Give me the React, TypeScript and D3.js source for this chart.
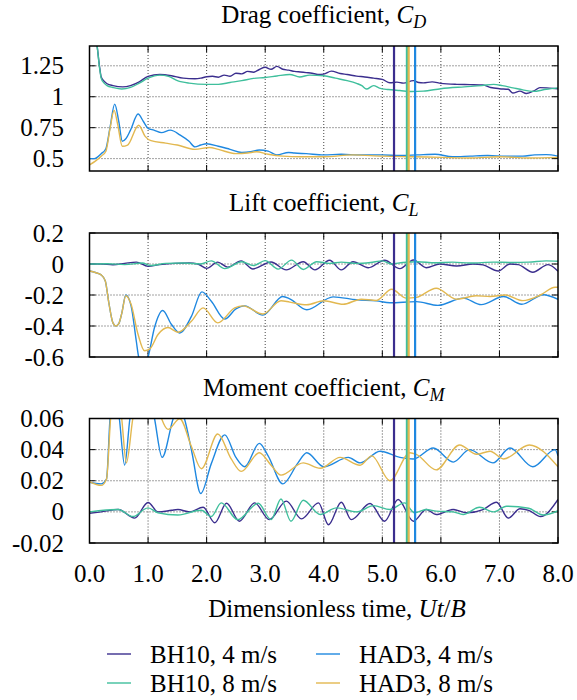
import React from "react";
import * as d3 from "d3";

// ---------- data ----------
const xTicks = [0, 1, 2, 3, 4, 5, 6, 7, 8];
const xTickLabels = ["0.0", "1.0", "2.0", "3.0", "4.0", "5.0", "6.0", "7.0", "8.0"];

const seriesNames = ["BH10, 4 m/s", "BH10, 8 m/s", "HAD3, 4 m/s", "HAD3, 8 m/s"];
const seriesColors = ["#3b2e8e", "#3fbf9c", "#1f88e0", "#e2b850"];
const markerTimes = [5.2, 5.42, 5.56, 5.45]; // vertical lines, same order as series

const dragTicks = [0.5, 0.75, 1, 1.25];
const dragTickLabels = ["0.5", "0.75", "1", "1.25"];
const liftTicks = [-0.6, -0.4, -0.2, 0, 0.2];
const liftTickLabels = ["-0.6", "-0.4", "-0.2", "0", "0.2"];
const momentTicks = [-0.02, 0, 0.02, 0.04, 0.06];
const momentTickLabels = ["-0.02", "0", "0.02", "0.04", "0.06"];

const dragBH10_4 = [[0,1.75],[0.08,1.55],[0.13,1.41],[0.17,1.25],[0.2,1.16],[0.25,1.125],[0.3,1.105],[0.4,1.09],[0.57,1.08],[0.7,1.09],[0.85,1.12],[1.0,1.165],[1.2,1.18],[1.4,1.17],[1.6,1.15],[1.8,1.145],[1.9,1.15],[2.0,1.162],[2.1,1.165],[2.2,1.158],[2.3,1.175],[2.4,1.165],[2.5,1.19],[2.6,1.185],[2.7,1.205],[2.8,1.198],[2.9,1.22],[3.0,1.238],[3.1,1.222],[3.2,1.245],[3.3,1.222],[3.4,1.215],[3.5,1.205],[3.6,1.2],[3.7,1.195],[3.8,1.19],[3.9,1.18],[4.0,1.183],[4.13,1.207],[4.28,1.188],[4.4,1.18],[4.56,1.167],[4.7,1.16],[4.85,1.15],[5.0,1.14],[5.13,1.113],[5.25,1.118],[5.36,1.11],[5.53,1.13],[5.62,1.115],[5.7,1.112],[5.85,1.12],[6.0,1.108],[6.27,1.1],[6.5,1.098],[6.72,1.095],[6.85,1.075],[7.0,1.065],[7.15,1.06],[7.23,1.03],[7.35,1.045],[7.46,1.026],[7.6,1.05],[7.69,1.074],[7.85,1.07],[8.0,1.065]];
const dragBH10_8 = [[0,1.75],[0.08,1.55],[0.13,1.41],[0.17,1.24],[0.2,1.15],[0.25,1.11],[0.3,1.09],[0.4,1.075],[0.55,1.062],[0.7,1.075],[0.85,1.11],[1.0,1.15],[1.2,1.175],[1.35,1.165],[1.5,1.13],[1.7,1.11],[2.0,1.1],[2.2,1.1],[2.4,1.115],[2.6,1.13],[2.8,1.148],[3.0,1.155],[3.2,1.168],[3.42,1.18],[3.59,1.16],[3.76,1.175],[4.0,1.17],[4.2,1.15],[4.4,1.13],[4.56,1.108],[4.65,1.09],[4.73,1.062],[4.85,1.09],[4.95,1.07],[5.1,1.058],[5.3,1.05],[5.5,1.042],[5.7,1.045],[6.0,1.065],[6.4,1.08],[6.7,1.09],[6.9,1.1],[7.05,1.09],[7.23,1.072],[7.4,1.055],[7.57,1.043],[7.8,1.06],[8.0,1.072]];
const dragHAD3_4 = [[0,0.5],[0.08,0.5],[0.2,0.54],[0.28,0.58],[0.35,0.75],[0.43,0.94],[0.5,0.8],[0.56,0.64],[0.62,0.66],[0.7,0.73],[0.83,0.86],[0.92,0.8],[1.0,0.745],[1.1,0.73],[1.23,0.71],[1.38,0.73],[1.55,0.69],[1.7,0.64],[1.8,0.595],[1.9,0.61],[2.0,0.62],[2.2,0.6],[2.4,0.575],[2.6,0.55],[2.75,0.555],[2.9,0.57],[3.05,0.56],[3.2,0.53],[3.4,0.55],[3.5,0.545],[3.7,0.54],[4.0,0.53],[4.3,0.535],[4.6,0.53],[5.0,0.53],[5.3,0.525],[5.6,0.53],[5.9,0.535],[6.2,0.515],[6.5,0.52],[6.8,0.525],[7.1,0.52],[7.4,0.52],[7.6,0.53],[7.8,0.532],[8.0,0.52]];
const dragHAD3_8 = [[0,0.45],[0.1,0.48],[0.2,0.52],[0.28,0.56],[0.35,0.74],[0.42,0.89],[0.48,0.78],[0.56,0.6],[0.65,0.61],[0.84,0.77],[0.95,0.68],[1.05,0.645],[1.3,0.625],[1.5,0.61],[1.8,0.575],[2.05,0.59],[2.2,0.575],[2.5,0.54],[2.7,0.545],[2.85,0.555],[3.05,0.535],[3.3,0.52],[3.6,0.515],[4.0,0.515],[4.5,0.53],[5.0,0.52],[5.5,0.515],[6.0,0.51],[6.5,0.505],[7.0,0.515],[7.5,0.505],[8.0,0.51]];

const liftBH10_4 = [[0,0],[0.2,0],[0.4,-0.005],[0.6,0.004],[0.8,0.012],[1.0,-0.015],[1.2,-0.004],[1.45,0.004],[1.7,0.006],[1.85,0.0],[2.0,-0.028],[2.19,0.012],[2.36,-0.02],[2.59,0.02],[2.79,-0.032],[3.1,0.013],[3.36,-0.038],[3.65,0.015],[3.85,-0.038],[4.1,0.024],[4.3,-0.038],[4.5,0.015],[4.76,-0.024],[5.04,0.024],[5.3,-0.03],[5.53,0.026],[5.75,-0.024],[5.98,0.0],[6.27,-0.013],[6.55,0.0],[6.72,-0.006],[6.98,-0.045],[7.18,0.0],[7.32,-0.004],[7.57,-0.053],[7.83,-0.004],[8.0,-0.047]];
const liftBH10_8 = [[0,0],[0.3,0.002],[0.6,-0.004],[0.9,0.006],[1.05,-0.01],[1.3,0.004],[1.6,0.006],[1.9,0.0],[2.08,0.02],[2.31,-0.03],[2.6,0.015],[2.8,-0.01],[3.0,0.022],[3.22,-0.033],[3.45,0.025],[3.65,-0.035],[3.88,0.015],[4.1,0.004],[4.3,0.012],[4.56,0.004],[4.8,0.01],[5.0,0.02],[5.15,0.0],[5.35,0.01],[5.6,0.015],[5.9,0.008],[6.2,0.012],[6.5,0.006],[6.9,0.012],[7.2,0.01],[7.5,0.012],[7.8,0.02],[8.0,0.018]];
const liftHAD3_4 = [[0,-0.045],[0.1,-0.055],[0.2,-0.07],[0.27,-0.11],[0.33,-0.25],[0.4,-0.38],[0.45,-0.4],[0.5,-0.385],[0.55,-0.32],[0.62,-0.2],[0.71,-0.27],[0.8,-0.5],[0.84,-0.6],[0.92,-0.66],[1.0,-0.6],[1.11,-0.41],[1.25,-0.3],[1.4,-0.39],[1.54,-0.445],[1.74,-0.338],[1.92,-0.18],[2.08,-0.24],[2.31,-0.355],[2.5,-0.29],[2.65,-0.27],[2.96,-0.33],[3.3,-0.21],[3.42,-0.225],[3.71,-0.295],[4.16,-0.212],[4.56,-0.231],[4.9,-0.238],[5.13,-0.25],[5.58,-0.243],[5.95,-0.267],[6.38,-0.22],[6.69,-0.262],[7.07,-0.21],[7.38,-0.26],[7.75,-0.198],[8.0,-0.228]];
const liftHAD3_8 = [[0,-0.045],[0.1,-0.055],[0.2,-0.07],[0.27,-0.11],[0.33,-0.25],[0.4,-0.38],[0.45,-0.4],[0.5,-0.385],[0.55,-0.32],[0.62,-0.205],[0.71,-0.26],[0.83,-0.455],[0.94,-0.56],[1.03,-0.548],[1.17,-0.455],[1.34,-0.41],[1.51,-0.44],[1.74,-0.37],[1.94,-0.283],[2.19,-0.38],[2.48,-0.283],[2.62,-0.27],[2.96,-0.323],[3.27,-0.237],[3.42,-0.246],[3.71,-0.263],[4.0,-0.237],[4.33,-0.26],[4.64,-0.227],[4.9,-0.235],[5.16,-0.163],[5.41,-0.22],[5.58,-0.215],[5.92,-0.156],[6.27,-0.227],[6.6,-0.205],[6.84,-0.21],[7.1,-0.2],[7.4,-0.236],[7.7,-0.2],[7.95,-0.15],[8.0,-0.15]];

const momentBH10_4 = [[0,-0.001],[0.2,0.0],[0.49,0.0015],[0.77,-0.004],[1.0,0.006],[1.17,0.0],[1.4,0.001],[1.51,0.0015],[1.71,0.0],[1.94,0.003],[2.14,-0.007],[2.34,0.0055],[2.56,-0.006],[2.82,0.0058],[3.07,-0.005],[3.36,0.0069],[3.62,-0.0045],[3.91,0.0058],[4.08,-0.0083],[4.3,0.0062],[4.47,-0.005],[4.79,0.0054],[5.04,-0.006],[5.27,0.008],[5.53,-0.006],[5.75,0.0015],[5.92,-0.0017],[6.21,0.0015],[6.44,-0.0006],[6.72,0.0015],[6.95,0.0062],[7.15,-0.004],[7.35,0.002],[7.5,0.001],[7.7,-0.003],[8.0,0.008]];
const momentBH10_8 = [[0,0.0],[0.49,0.0015],[0.74,-0.003],[1.0,0.0026],[1.17,-0.0006],[1.51,-0.002],[1.91,0.001],[2.08,-0.003],[2.25,0.0058],[2.53,-0.005],[2.88,0.0055],[3.1,-0.005],[3.27,0.0083],[3.44,-0.006],[3.65,0.0075],[3.94,-0.0017],[4.22,0.0026],[4.56,0.0],[4.85,0.004],[5.13,0.0015],[5.38,0.0058],[5.55,-0.0006],[5.75,0.0015],[5.92,0.0005],[6.21,0.0],[6.38,-0.0017],[6.66,0.003],[6.9,0.0],[7.12,0.0036],[7.5,0.0023],[7.75,-0.002],[8.0,0.0008]];
const momentHAD3_4 = [[0,0.019],[0.2,0.018],[0.29,0.021],[0.35,0.06],[0.42,0.085],[0.51,0.06],[0.6,0.03],[0.69,0.06],[0.85,0.085],[1.0,0.08],[1.11,0.06],[1.24,0.035],[1.43,0.06],[1.52,0.068],[1.62,0.06],[1.75,0.038],[1.9,0.0118],[2.08,0.031],[2.31,0.0495],[2.5,0.035],[2.65,0.029],[2.9,0.044],[3.05,0.036],[3.3,0.018],[3.56,0.0315],[3.71,0.038],[4.0,0.029],[4.42,0.035],[4.62,0.0315],[4.96,0.039],[5.3,0.035],[5.53,0.034],[5.87,0.041],[6.21,0.032],[6.49,0.04],[6.89,0.0315],[7.18,0.041],[7.57,0.029],[7.95,0.04],[8.0,0.036]];
const momentHAD3_8 = [[0,0.0195],[0.2,0.017],[0.29,0.021],[0.36,0.06],[0.45,0.09],[0.55,0.06],[0.63,0.0315],[0.74,0.06],[0.95,0.09],[1.15,0.07],[1.23,0.06],[1.34,0.053],[1.54,0.0598],[1.74,0.042],[1.91,0.0277],[2.19,0.05],[2.42,0.034],[2.59,0.026],[2.9,0.038],[3.1,0.03],[3.27,0.0236],[3.65,0.0315],[3.94,0.028],[4.28,0.035],[4.62,0.03],[4.82,0.036],[5.13,0.02],[5.47,0.038],[5.58,0.037],[5.92,0.027],[6.32,0.043],[6.61,0.037],[6.84,0.039],[7.07,0.034],[7.51,0.043],[8.0,0.029]];

// ---------- layout ----------
const FONT = "'Liberation Serif', 'Times New Roman', serif";
const FS = 25;
const X0 = 89.5;
const X1 = 558;

const x = d3.scaleLinear().domain([0, 8]).range([X0, X1]);

type Panel = {
  key: string;
  title: string;
  sub: string;
  titleY: number;
  top: number;
  bottom: number;
  domain: [number, number];
  ticks: number[];
  labels: string[];
  series: number[][][];
};

const panels: Panel[] = [
  { key: "drag", title: "Drag coefficient, ", sub: "D", titleY: 23, top: 46, bottom: 171, domain: [0.4, 1.41], ticks: dragTicks, labels: dragTickLabels, series: [dragBH10_4, dragBH10_8, dragHAD3_4, dragHAD3_8] },
  { key: "lift", title: "Lift coefficient, ", sub: "L", titleY: 211, top: 233, bottom: 357, domain: [-0.6, 0.2], ticks: liftTicks, labels: liftTickLabels, series: [liftBH10_4, liftBH10_8, liftHAD3_4, liftHAD3_8] },
  { key: "moment", title: "Moment coefficient, ", sub: "M", titleY: 396, top: 418.5, bottom: 543, domain: [-0.02, 0.06], ticks: momentTicks, labels: momentTickLabels, series: [momentBH10_4, momentBH10_8, momentHAD3_4, momentHAD3_8] },
];

const drawOrder = [0, 2, 1, 3];

function PanelView({ p }: { p: Panel }) {
  const y = d3.scaleLinear().domain(p.domain).range([p.bottom, p.top]);
  const line = d3
    .line<number[]>()
    .x((d) => x(d[0]))
    .y((d) => y(d[1]))
    .curve(d3.curveMonotoneX);
  const clipId = `clip-${p.key}`;
  const eps = 1e-9;
  const innerY = p.ticks.filter((t) => t > p.domain[0] + eps && t < p.domain[1] - eps);
  const innerX = xTicks.filter((t) => t > 0 && t < 8);
  return (
    <g>
      <defs>
        <clipPath id={clipId}>
          <rect x={X0} y={p.top} width={X1 - X0} height={p.bottom - p.top} />
        </clipPath>
      </defs>
      <text x={(X0 + X1) / 2} y={p.titleY} textAnchor="middle" fontSize={FS} fontFamily={FONT}>
        {p.title}
        <tspan fontStyle="italic">C</tspan>
        <tspan fontStyle="italic" fontSize={18} dy={5}>{p.sub}</tspan>
      </text>
      {/* grid */}
      {innerX.map((t) => (
        <line key={"gx" + t} x1={x(t)} x2={x(t)} y1={p.top} y2={p.bottom} stroke="#444" strokeWidth={1} strokeDasharray="1,2" />
      ))}
      {innerY.map((t) => (
        <line key={"gy" + t} x1={X0} x2={X1} y1={y(t)} y2={y(t)} stroke="#444" strokeWidth={1} strokeDasharray="1,2" />
      ))}
      {/* tick marks */}
      {xTicks.map((t) => (
        <g key={"tx" + t}>
          <line x1={x(t)} x2={x(t)} y1={p.bottom} y2={p.bottom - 6} stroke="#000" strokeWidth={1} />
          <line x1={x(t)} x2={x(t)} y1={p.top} y2={p.top + 6} stroke="#000" strokeWidth={1} />
        </g>
      ))}
      {p.ticks.map((t, i) => (
        <g key={"ty" + t}>
          <line x1={X0} x2={X0 + 6} y1={y(t)} y2={y(t)} stroke="#000" strokeWidth={1} />
          <line x1={X1} x2={X1 - 6} y1={y(t)} y2={y(t)} stroke="#000" strokeWidth={1} />
          <text x={64} y={y(t) + 8.5} textAnchor="end" fontSize={FS} fontFamily={FONT}>
            {p.labels[i]}
          </text>
        </g>
      ))}
      {/* series */}
      <g clipPath={`url(#${clipId})`}>
        {drawOrder.map((si) => (
          <path key={"s" + si} d={line(p.series[si]) || ""} fill="none" stroke={seriesColors[si]} strokeWidth={1.4} />
        ))}
        {[0, 1, 3, 2].map((si) => (
          <line key={"m" + si} x1={x(markerTimes[si])} x2={x(markerTimes[si])} y1={p.top} y2={p.bottom} stroke={seriesColors[si]} strokeWidth={2.2} />
        ))}
      </g>
      <rect x={X0} y={p.top} width={X1 - X0} height={p.bottom - p.top} fill="none" stroke="#000" strokeWidth={1.5} />
    </g>
  );
}

export default function App() {
  const legendRows = [
    { y: 654, items: [0, 2] },
    { y: 683, items: [1, 3] },
  ];
  const legendCols = [107, 316];
  return (
    <svg width={577} height={700} viewBox="0 0 577 700" style={{ display: "block", position: "absolute", left: 0, top: 0, background: "#fff" }}>
      <rect width={577} height={700} fill="#fff" />
      {panels.map((p) => (
        <PanelView key={p.key} p={p} />
      ))}
      {xTicks.map((t, i) => (
        <text key={"xl" + t} x={x(t)} y={582} textAnchor="middle" fontSize={FS} fontFamily={FONT}>
          {xTickLabels[i]}
        </text>
      ))}
      <text x={337} y={617} textAnchor="middle" fontSize={FS} fontFamily={FONT}>
        Dimensionless time, <tspan fontStyle="italic">Ut</tspan>/<tspan fontStyle="italic">B</tspan>
      </text>
      {legendRows.map((row) =>
        row.items.map((si, ci) => (
          <g key={"lg" + si}>
            <line x1={legendCols[ci]} x2={legendCols[ci] + 24} y1={row.y} y2={row.y} stroke={seriesColors[si]} strokeWidth={1.4} />
            <text x={legendCols[ci] + 43} y={row.y + 8.5} fontSize={FS} fontFamily={FONT}>
              {seriesNames[si]}
            </text>
          </g>
        ))
      )}
    </svg>
  );
}
